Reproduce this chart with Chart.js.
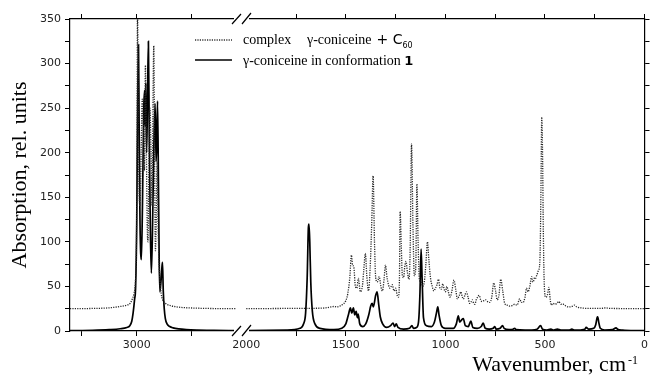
<!DOCTYPE html>
<html>
<head>
<meta charset="utf-8">
<script src="https://cdn.jsdelivr.net/npm/chart.js@4"></script>
<style>
  html, body { margin: 0; padding: 0; background: #fff; }
</style>
</head>
<body>
<canvas id="spectrum" width="651" height="376"></canvas>
<script>
// tick marks of the broken wavenumber axis, labelled ones listed separately
const tickWn = [3500, 3000, 2500, 2000, 1750, 1500, 1250, 1000, 750, 500, 250, 0]
const labelWn = [3000, 2000, 1500, 1000, 500, 0]

// gamma-coniceine in conformation 1 (solid), 3600-2100 part
const solidLeftWn = [3606, 3400, 3250, 3150, 3090, 3063, 3045, 3033, 3020, 3010, 3000, 2992, 2984, 2978, 2970, 2958, 2948, 2936, 2928, 2923, 2918, 2910, 2902, 2894, 2886, 2876, 2867, 2856, 2844, 2833, 2824, 2818, 2811, 2803, 2796, 2790, 2780, 2772, 2766, 2759, 2750, 2740, 2725, 2700, 2670, 2620, 2550, 2450, 2300, 2096]
const solidLeftAbs = [0.5, 0.8, 1.5, 2.5, 4, 6, 11, 20, 35, 50, 120, 250, 321, 230, 120, 80, 140, 250, 270, 230, 278, 200, 260, 325, 220, 110, 65, 120, 210, 255, 190, 210, 258, 170, 80, 44, 55, 70, 77, 45, 25, 14, 8, 5, 3.5, 2.3, 1.5, 1, 0.7, 0.5]

// 2000-0 part
const solidRightWn = [2000, 1800, 1730, 1712, 1702, 1694, 1688, 1685, 1681, 1676, 1668, 1655, 1630, 1560, 1520, 1500, 1485, 1477, 1470, 1462, 1455, 1448, 1442, 1438, 1430, 1415, 1400, 1385, 1375, 1368, 1362, 1350, 1343, 1335, 1327, 1315, 1295, 1275, 1263, 1255, 1247, 1238, 1210, 1180, 1168, 1160, 1145, 1135, 1128, 1122, 1117, 1110, 1095, 1070, 1055, 1045, 1038, 1032, 1020, 1000, 960, 945, 935, 928, 920, 910, 900, 885, 872, 862, 840, 820, 810, 800, 780, 760, 752, 745, 725, 713, 705, 680, 660, 652, 645, 600, 540, 522, 512, 490, 470, 455, 438, 420, 380, 365, 350, 300, 293, 280, 255, 245, 238, 235, 230, 222, 200, 160, 143, 135, 110, 50, 0]
const solidRightAbs = [0.5, 1, 3, 8, 20, 60, 116, 120, 100, 55, 22, 8, 3, 1.5, 3, 8, 20, 26, 20, 26, 18, 22, 15, 19, 8, 5, 8, 18, 28, 31, 27, 40, 44, 30, 16, 8, 4, 6, 9, 5, 8, 4, 2, 3, 6, 3, 4, 10, 40, 92, 60, 15, 6, 5, 10, 20, 27, 18, 6, 3, 3, 8, 17, 10, 12, 14, 6, 5, 11, 4, 3, 5, 9, 3, 2, 3, 5, 2, 3, 6, 3, 1.5, 2, 3, 1.5, 1, 2, 6, 2, 1, 2, 1, 2, 1, 1, 2, 1, 2, 4, 2, 3, 7, 15, 16, 10, 3, 1, 1.5, 3.5, 2, 1, 0.5, 0.5]

// complex gamma-coniceine + C60 (dotted), 3600-2100 part
const complexLeftWn = [3606, 3400, 3250, 3150, 3090, 3060, 3040, 3025, 3012, 3004, 2998, 2993, 2987, 2980, 2970, 2960, 2950, 2940, 2930, 2921, 2912, 2905, 2898, 2890, 2880, 2870, 2860, 2852, 2845, 2838, 2830, 2822, 2815, 2806, 2798, 2788, 2778, 2768, 2755, 2740, 2720, 2695, 2660, 2600, 2500, 2350, 2096]
const complexLeftAbs = [25, 25.3, 26, 27.5, 29, 31, 36, 42, 55, 85, 180, 360, 280, 170, 140, 200, 260, 230, 180, 298, 200, 120, 100, 180, 250, 200, 140, 260, 320, 200, 90, 130, 190, 120, 80, 55, 42, 36, 33, 31, 29.5, 28.5, 27.5, 26.5, 25.8, 25.3, 25]

// 2000-0 part
const complexRightWn = [2000, 1800, 1650, 1600, 1575, 1560, 1545, 1530, 1515, 1500, 1490, 1480, 1472, 1466, 1460, 1452, 1445, 1437, 1427, 1417, 1410, 1402, 1394, 1386, 1378, 1370, 1363, 1356, 1350, 1342, 1332, 1324, 1316, 1308, 1301, 1293, 1286, 1278, 1267, 1258, 1250, 1242, 1236, 1231, 1227, 1222, 1216, 1210, 1204, 1198, 1190, 1183, 1177, 1170, 1163, 1156, 1149, 1143, 1137, 1130, 1122, 1114, 1106, 1098, 1090, 1083, 1075, 1066, 1058, 1050, 1042, 1035, 1027, 1020, 1013, 1005, 999, 993, 985, 977, 967, 957, 947, 940, 930, 922, 915, 910, 902, 895, 886, 878, 870, 865, 858, 852, 845, 838, 830, 823, 816, 807, 798, 788, 777, 767, 757, 748, 740, 731, 722, 712, 702, 690, 677, 665, 652, 640, 627, 618, 610, 600, 593, 585, 576, 567, 562, 557, 552, 547, 542, 537, 533, 528, 524, 520, 516, 512, 508, 503, 496, 488, 480, 474, 468, 460, 450, 440, 430, 420, 407, 395, 380, 365, 352, 340, 320, 300, 250, 210, 195, 180, 120, 60, 0]
const complexRightAbs = [25, 25.3, 25.5, 26, 27, 27.5, 27, 28, 30, 34, 42, 60, 85, 74, 72, 50, 48, 59, 44, 50, 68, 87, 60, 45, 70, 120, 174, 100, 60, 55, 61, 50, 45, 58, 74, 60, 52, 48, 52, 45, 48, 40, 38, 55, 134, 100, 62, 60, 72, 78, 65, 58, 90, 210, 120, 62, 70, 165, 100, 57, 55, 50, 55, 75, 100, 80, 60, 50, 45, 48, 52, 58, 48, 47, 53, 46, 44, 50, 44, 38, 45, 57, 45, 36, 40, 44, 38, 36, 40, 44, 38, 31, 33, 35, 31, 30, 35, 38, 40, 35, 33, 34, 35, 33, 32, 38, 54, 45, 35, 40, 58, 45, 31, 29, 28, 28.5, 30, 29, 36, 32, 32, 38, 48, 44, 50, 61, 55, 56, 60, 59, 62, 65, 68, 71, 90, 160, 240, 200, 110, 50, 38, 40, 49, 36, 29, 31, 30, 31, 33, 30, 30, 28, 27, 27.5, 29, 27, 26, 25.5, 25.3, 25.5, 26, 25.5, 25.2, 25, 25]

// axis break: 3606-2096 takes the first part of the width, 2000-0 the rest
const leftSeg = { from: 3606, to: 2096, start: 0, end: 0.2894 }
const rightSeg = { from: 2000, to: 0, start: 0.3068, end: 1 }

function wnFrac(w) {
    if (w >= leftSeg.to) return leftSeg.start + (leftSeg.from - w) / (leftSeg.from - leftSeg.to) * (leftSeg.end - leftSeg.start)
    if (w <= rightSeg.from) return rightSeg.start + (rightSeg.from - w) / (rightSeg.from - rightSeg.to) * (rightSeg.end - rightSeg.start)
    return leftSeg.end + (leftSeg.to - w) / (leftSeg.to - rightSeg.from) * (rightSeg.start - leftSeg.end)
}
function fracWn(f) {
    if (f <= leftSeg.end) return leftSeg.from - (f - leftSeg.start) / (leftSeg.end - leftSeg.start) * (leftSeg.from - leftSeg.to)
    if (f >= rightSeg.start) return rightSeg.from - (f - rightSeg.start) / (rightSeg.end - rightSeg.start) * (rightSeg.from - rightSeg.to)
    return leftSeg.to - (f - leftSeg.end) / (rightSeg.start - leftSeg.end) * (leftSeg.to - rightSeg.from)
}

class BrokenScale extends Chart.LinearScale {
    static id = 'broken'
    static defaults = Chart.LinearScale.defaults
    buildTicks() {
        return tickWn.map(v => ({ value: v }))
    }
    getPixelForValue(v) {
        return this.left + this.width * wnFrac(v)
    }
    getValueForPixel(p) {
        return fracWn((p - this.left) / this.width)
    }
}
Chart.register(BrokenScale)

function joinParts(wnA, absA, wnB, absB) {
    const pts = wnA.map((w, i) => ({ x: w, y: absA[i] }))
    pts.push({ x: 2048, y: null }) // gap at the break
    return pts.concat(wnB.map((w, i) => ({ x: w, y: absB[i] })))
}

const serif = '"Liberation Serif", "Times New Roman", serif'
const sans = '"DejaVu Sans", sans-serif'

// break marks, x title and legend
const decorPlugin = {
    id: 'decor',
    afterDraw(chart) {
        const ctx = chart.ctx
        const a = chart.chartArea
        ctx.save()
        // hide the axis lines at the break
        ctx.fillStyle = '#fff'
        ctx.fillRect(234, a.top - 6, 15, 10)
        ctx.fillRect(234, a.bottom - 3, 15, 9)
        ctx.strokeStyle = '#000'
        ctx.lineWidth = 1.2
        ;[a.top, a.bottom].forEach(y => {
            ctx.beginPath()
            ctx.moveTo(232, y + 5); ctx.lineTo(241, y - 5)
            ctx.moveTo(242, y + 5); ctx.lineTo(251, y - 6)
            ctx.stroke()
        })

        // x title with superscript
        ctx.fillStyle = '#000'
        ctx.textBaseline = 'alphabetic'
        ctx.font = '22px ' + serif
        ctx.textAlign = 'right'
        ctx.fillText('Wavenumber, cm', 626, 371)
        ctx.textAlign = 'left'
        ctx.font = '12px ' + serif
        ctx.fillText('-1', 628, 364)

        // legend
        ctx.lineWidth = 1.3
        ctx.strokeStyle = '#333'
        ctx.setLineDash([1.2, 1.2])
        ctx.beginPath(); ctx.moveTo(195, 40); ctx.lineTo(232, 40); ctx.stroke()
        ctx.setLineDash([])
        ctx.strokeStyle = '#000'
        ctx.lineWidth = 1.7
        ctx.beginPath(); ctx.moveTo(195, 60); ctx.lineTo(232, 60); ctx.stroke()

        ctx.font = '14px ' + serif
        ctx.fillText('complex', 243, 44)
        ctx.fillText('\u03b3-coniceine', 307, 44)
        let x = 307 + ctx.measureText('\u03b3-coniceine').width + 5
        ctx.font = '14px ' + sans
        ctx.fillText('+ C', x, 44)
        x += ctx.measureText('+ C').width
        ctx.font = '8px ' + sans
        ctx.fillText('60', x, 48)

        ctx.font = '14px ' + serif
        ctx.fillText('\u03b3-coniceine in conformation ', 243, 65)
        x = 243 + ctx.measureText('\u03b3-coniceine in conformation ').width
        ctx.font = 'bold 13px ' + sans
        ctx.fillText('1', x, 65)
        ctx.restore()
    }
}

const axisGrid = {
    drawOnChartArea: false,
    drawTicks: true,
    tickLength: 5,
    tickColor: '#000',
    tickWidth: 1
}
const axisBorder = { display: true, color: '#000', width: 1.2 }

new Chart(document.getElementById('spectrum'), {
    type: 'line',
    data: {
        datasets: [{
            label: 'complex \u03b3-coniceine + C60',
            data: joinParts(complexLeftWn, complexLeftAbs, complexRightWn, complexRightAbs),
            borderColor: '#2a2a2a',
            borderWidth: 1.3,
            borderDash: [1.2, 1.2],
            pointRadius: 0,
            fill: false,
            spanGaps: false,
            cubicInterpolationMode: 'monotone',
            xAxisID: 'x',
            yAxisID: 'y'
        }, {
            label: '\u03b3-coniceine in conformation 1',
            data: joinParts(solidLeftWn, solidLeftAbs, solidRightWn, solidRightAbs),
            borderColor: '#000',
            borderWidth: 1.7,
            pointRadius: 0,
            fill: false,
            spanGaps: false,
            cubicInterpolationMode: 'monotone',
            xAxisID: 'x',
            yAxisID: 'y'
        }]
    },
    options: {
        responsive: false,
        animation: false,
        devicePixelRatio: 1,
        layout: { padding: 0 },
        scales: {
            x: {
                type: 'broken',
                position: 'bottom',
                min: 0,
                max: 3606,
                grid: axisGrid,
                border: axisBorder,
                ticks: {
                    autoSkip: false,
                    maxRotation: 0,
                    padding: 3,
                    color: '#222',
                    font: { family: sans, size: 11 },
                    callback: v => labelWn.includes(v) ? String(v) : ''
                },
                afterFit: s => { s.height = 45 }
            },
            x2: {
                type: 'broken',
                position: 'top',
                min: 0,
                max: 3606,
                grid: axisGrid,
                border: axisBorder,
                ticks: { display: false, autoSkip: false },
                afterFit: s => { s.height = 19 }
            },
            y: {
                type: 'linear',
                position: 'left',
                min: 0,
                max: 350,
                grid: axisGrid,
                border: axisBorder,
                ticks: {
                    stepSize: 25,
                    autoSkip: false,
                    padding: 4,
                    color: '#222',
                    font: { family: sans, size: 11 },
                    callback: v => v % 50 === 0 ? String(v) : ''
                },
                title: {
                    display: true,
                    text: 'Absorption, rel. units',
                    color: '#000',
                    font: { family: serif, size: 22 },
                    padding: { top: 7, bottom: 0 }
                },
                afterFit: s => { s.width = 70 }
            },
            y2: {
                type: 'linear',
                position: 'right',
                min: 0,
                max: 350,
                grid: axisGrid,
                border: axisBorder,
                ticks: { display: false, stepSize: 25 },
                afterFit: s => { s.width = 4 }
            }
        },
        plugins: {
            legend: { display: false },
            tooltip: { enabled: false }
        }
    },
    plugins: [decorPlugin]
})
</script>
</body>
</html>
